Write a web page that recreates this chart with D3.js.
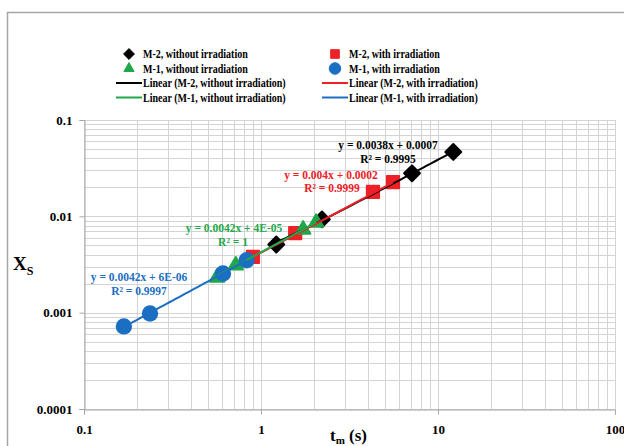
<!DOCTYPE html>
<html>
<head>
<meta charset="utf-8">
<style>
  body { margin: 0; background: #fff; }
  text { font-family: "Liberation Serif", "Times New Roman", serif; font-weight: bold; }
</style>
</head>
<body>
<script src="https://cdn.jsdelivr.net/npm/d3@7"></script>
<script>
// data
var m2Dark = [[1.22, 0.0051], [2.21, 0.0093], [7.13, 0.0280], [12.2, 0.0466]];   // M-2, without irradiation
var m2Light = [[0.90, 0.0038], [1.56, 0.0067], [4.29, 0.0179], [5.57, 0.0227]];  // M-2, with irradiation
var m1Dark = [[0.565, 0.00232], [0.72, 0.0031], [1.73, 0.0073], [2.05, 0.0086]];   // M-1, without irradiation
var m1Light = [[0.168, 0.00072], [0.236, 0.00098], [0.61, 0.00255], [0.83, 0.0035]]; // M-1, with irradiation

// trend line coefficients [slope, intercept]
var fitM2Dark = [0.0038, 0.0007];
var fitM2Light = [0.004, 0.0002];
var fitM1Dark = [0.0042, 0.00004];
var fitM1Light = [0.0042, 0.000006];

var xTicks = [0.1, 1, 10, 100];
var yTicks = [0.1, 0.01, 0.001, 0.0001];

var W = 624, H = 446;
var pLeft = 84, pRight = 615, pTop = 120, pBottom = 409;

var svg = d3.select("body").append("svg").attr("width", W).attr("height", H);

// outer chart frame (cut off on right and bottom)
svg.append("rect").attr("x", 7.5).attr("y", 12.5).attr("width", 700).attr("height", 500)
  .attr("fill", "none").attr("stroke", "#a6a6a6").attr("stroke-width", 1.5);

var x = d3.scaleLog().domain([0.1, 100]).range([pLeft, pRight]);
var y = d3.scaleLog().domain([0.0001, 0.1]).range([pBottom, pTop]);

// minor grid values
var xGrid = [], yGrid = [];
[0.1, 1, 10].forEach(function(d) { for (var i = 1; i <= 10; i++) xGrid.push(d * i); });
[0.0001, 0.001, 0.01].forEach(function(d) { for (var i = 1; i <= 10; i++) yGrid.push(d * i); });

var grid = svg.append("g").attr("stroke", "#d4d4d4").attr("stroke-width", 1);
grid.selectAll("line.vx").data(xGrid).join("line")
  .attr("x1", d => Math.round(x(d)) + 0.5).attr("x2", d => Math.round(x(d)) + 0.5)
  .attr("y1", pTop).attr("y2", pBottom);
grid.selectAll("line.hy").data(yGrid).join("line")
  .attr("y1", d => Math.round(y(d)) + 0.5).attr("y2", d => Math.round(y(d)) + 0.5)
  .attr("x1", pLeft).attr("x2", pRight);

// axes
var xAxis = d3.axisBottom(x).tickValues(xTicks).tickSize(5).tickFormat(d3.format("~g"));
var yAxis = d3.axisLeft(y).tickValues(yTicks).tickSize(5).tickFormat(d3.format("~g"));

var gx = svg.append("g").attr("transform", "translate(0," + (pBottom + 0.5) + ")").call(xAxis);
var gy = svg.append("g").attr("transform", "translate(" + (pLeft + 0.5) + ",0)").call(yAxis);
[gx, gy].forEach(function(g) {
  g.select(".domain").attr("stroke", "#a6a6a6");
  g.selectAll(".tick line").attr("stroke", "#a6a6a6");
  g.selectAll(".tick text").attr("fill", "#000").attr("font-size", 13)
    .attr("font-family", "Liberation Serif").attr("font-weight", "bold");
});
gx.selectAll(".tick text").attr("dy", "1.3em");
gy.selectAll(".tick text").attr("x", -12);

// axis titles
var yt = svg.append("text").attr("x", 13).attr("y", 270).attr("font-size", 19);
yt.append("tspan").text("X");
yt.append("tspan").attr("font-size", 12).attr("dy", 5).text("S");
var xt = svg.append("text").attr("x", 330).attr("y", 441).attr("font-size", 17);
xt.append("tspan").text("t");
xt.append("tspan").attr("font-size", 11).attr("dy", 2.5).text("m");
xt.append("tspan").attr("dy", -2.5).text(" (s)");

var cBlack = "#000000", cRed = "#ee2027", cGreen = "#1fa84a", cBlue = "#1b6fc2";

var sym = {
  diamond: d3.symbol().type(d3.symbolDiamond2).size(160),
  square: d3.symbol().type(d3.symbolSquare2).size(190),
  triangle: d3.symbol().type(d3.symbolTriangle2).size(150),
  circle: d3.symbol().type(d3.symbolCircle).size(210)
};

function markers(data, path, color, round) {
  svg.append("g").selectAll("path").data(data).join("path")
    .attr("d", path)
    .attr("transform", d => "translate(" + x(d[0]) + "," + y(d[1]) + ")")
    .attr("fill", color)
    .attr("stroke", color).attr("stroke-width", round).attr("stroke-linejoin", "round");
}

markers(m2Dark, sym.diamond, cBlack, 2);
markers(m2Light, sym.square, cRed, 2);
markers(m1Dark, sym.triangle, cGreen, 2);
markers(m1Light, sym.circle, cBlue, 0);

function trend(data, fit, color) {
  var ext = d3.extent(data, d => d[0]);
  var pts = d3.range(0, 41).map(function(i) {
    var v = ext[0] * Math.pow(ext[1] / ext[0], i / 40);
    return [v, fit[0] * v + fit[1]];
  });
  svg.append("path").datum(pts)
    .attr("d", d3.line().x(d => x(d[0])).y(d => y(d[1])))
    .attr("fill", "none").attr("stroke", color).attr("stroke-width", 2);
}
trend(m2Dark, fitM2Dark, cBlack);
trend(m2Light, fitM2Light, cRed);
trend(m1Dark, fitM1Dark, cGreen);
trend(m1Light, fitM1Light, cBlue);

// equation labels
var labels = [
  ["y = 0.0038x + 0.0007", 388, 149, cBlack],
  ["R\u00b2 = 0.9995", 388, 163, cBlack],
  ["y = 0.004x + 0.0002", 331, 179, cRed],
  ["R\u00b2 = 0.9999", 332, 192, cRed],
  ["y = 0.0042x + 4E-05", 234, 232, cGreen],
  ["R\u00b2 = 1", 233, 246, cGreen],
  ["y = 0.0042x + 6E-06", 139, 281, cBlue],
  ["R\u00b2 = 0.9997", 139, 295, cBlue]
];
svg.append("g").selectAll("text").data(labels).join("text")
  .attr("x", d => d[1]).attr("y", d => d[2]).attr("text-anchor", "middle")
  .attr("font-size", 11.5).attr("fill", d => d[3]).text(d => d[0]);

// legend
var legendItems = [
  { t: "M-2, without irradiation", c: cBlack, s: "diamond", col: 0, row: 0 },
  { t: "M-2, with irradiation", c: cRed, s: "square", col: 1, row: 0 },
  { t: "M-1, without irradiation", c: cGreen, s: "triangle", col: 0, row: 1 },
  { t: "M-1, with irradiation", c: cBlue, s: "circle", col: 1, row: 1 },
  { t: "Linear (M-2, without irradiation)", c: cBlack, s: "line", col: 0, row: 2 },
  { t: "Linear (M-2, with irradiation)", c: cRed, s: "line", col: 1, row: 2 },
  { t: "Linear (M-1, without irradiation)", c: cGreen, s: "line", col: 0, row: 3 },
  { t: "Linear (M-1, with irradiation)", c: cBlue, s: "line", col: 1, row: 3 }
];
var legSym = {
  diamond: d3.symbol().type(d3.symbolDiamond2).size(75),
  square: d3.symbol().type(d3.symbolSquare2).size(95),
  triangle: d3.symbol().type(d3.symbolTriangle2).size(75),
  circle: d3.symbol().type(d3.symbolCircle).size(105)
};
var lg = svg.append("g").selectAll("g").data(legendItems).join("g")
  .attr("transform", d => "translate(" + (d.col ? 335 : 129) + "," + (54 + d.row * 14.5) + ")");
lg.filter(d => d.s === "line").append("line")
  .attr("x1", -13).attr("x2", 13).attr("stroke", d => d.c).attr("stroke-width", 2);
lg.filter(d => d.s !== "line").append("path")
  .attr("d", d => legSym[d.s]()).attr("fill", d => d.c)
  .attr("stroke", d => d.c).attr("stroke-width", 1).attr("stroke-linejoin", "round");
lg.append("text").attr("x", 14).attr("dy", "0.35em").attr("font-size", 11.5)
  .attr("fill", "#000").text(d => d.t)
  .each(function() {
    // the reference face is narrower than Liberation Serif at this height
    var w = this.getComputedTextLength();
    d3.select(this).attr("textLength", w * 0.87).attr("lengthAdjust", "spacingAndGlyphs");
  });
</script>
</body>
</html>
